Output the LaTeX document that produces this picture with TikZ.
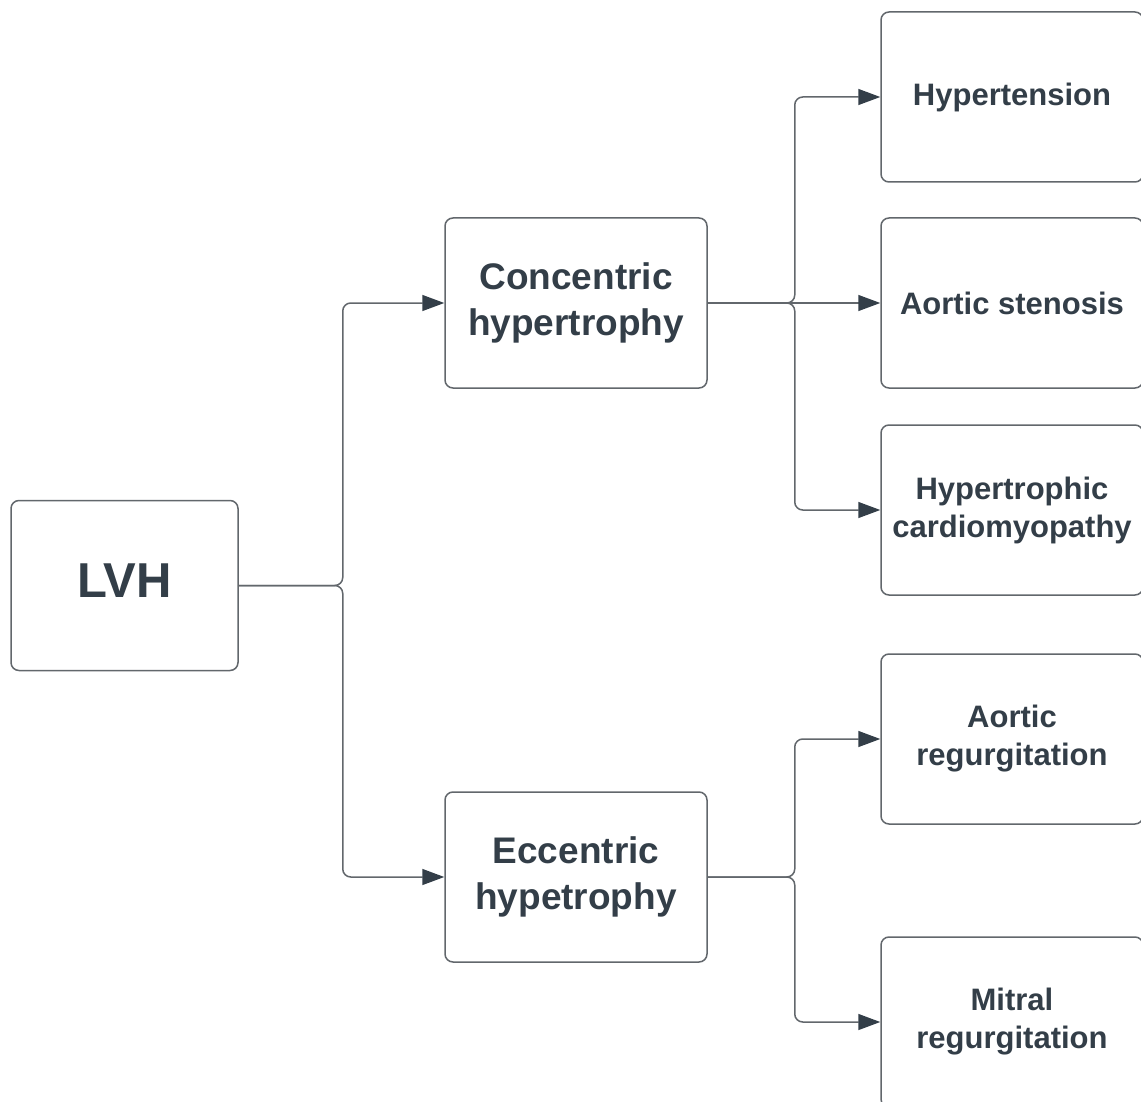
\documentclass[tikz,border=0pt]{standalone}
\usepackage{fontspec}
\setmainfont{Liberation Sans}
\usetikzlibrary{arrows.meta, positioning}

\definecolor{txtcol}{RGB}{51,62,72}
\definecolor{linecol}{RGB}{98,103,108}

\begin{document}
\begin{tikzpicture}[x=1pt, y=-1pt,
      box/.style={rectangle, draw=linecol, line width=1.5pt, rounded corners=8pt, fill=white,
        minimum width=262pt, minimum height=170pt, inner sep=0pt, align=center, text=txtcol},
      leaf/.style={box, font=\bfseries\fontsize{31}{38}\selectfont},
      mid/.style={box, font=\bfseries\fontsize{37}{46}\selectfont},
      conn/.style={draw=linecol, line width=1.5pt, rounded corners=8pt,
        -{Triangle[length=22pt, width=16pt, color=txtcol]}}]
      \useasboundingbox (0,0) rectangle (1141,1102);

      % Blocks
      \node[box, minimum width=227pt, text depth=10pt, font=\bfseries\fontsize{49}{56}\selectfont] (lvh) at (124.5,585.5) {LVH};
      \node[mid] (conc) at (576,303) {Concentric\\hypertrophy};
      \node[mid] (ecc) at (576,877) {Eccentric\\hypetrophy};
      \node[leaf] (htn) at (1012,97) {Hypertension};
      \node[leaf] (as) at (1012,303) {Aortic stenosis};
      \node[leaf] (hcm) at (1012,510) {Hypertrophic\\cardiomyopathy};
      \node[leaf] (ar) at (1012,739) {Aortic\\regurgitation};
      \node[leaf] (mr) at (1012,1022) {Mitral\\regurgitation};

      % Arrows from LVH
      \foreach \t in {conc, ecc} {
        \draw[conn] (lvh.east) -- ++(104,0) |- (\t.west);
      }

      % Arrows from the two types
      \foreach \t in {htn, hcm} {
        \draw[conn] (conc.east) -- ++(87,0) |- (\t.west);
      }
      \draw[conn] (conc.east) -- (as.west);
      \foreach \t in {ar, mr} {
        \draw[conn] (ecc.east) -- ++(87,0) |- (\t.west);
      }
    \end{tikzpicture}
\end{document}
